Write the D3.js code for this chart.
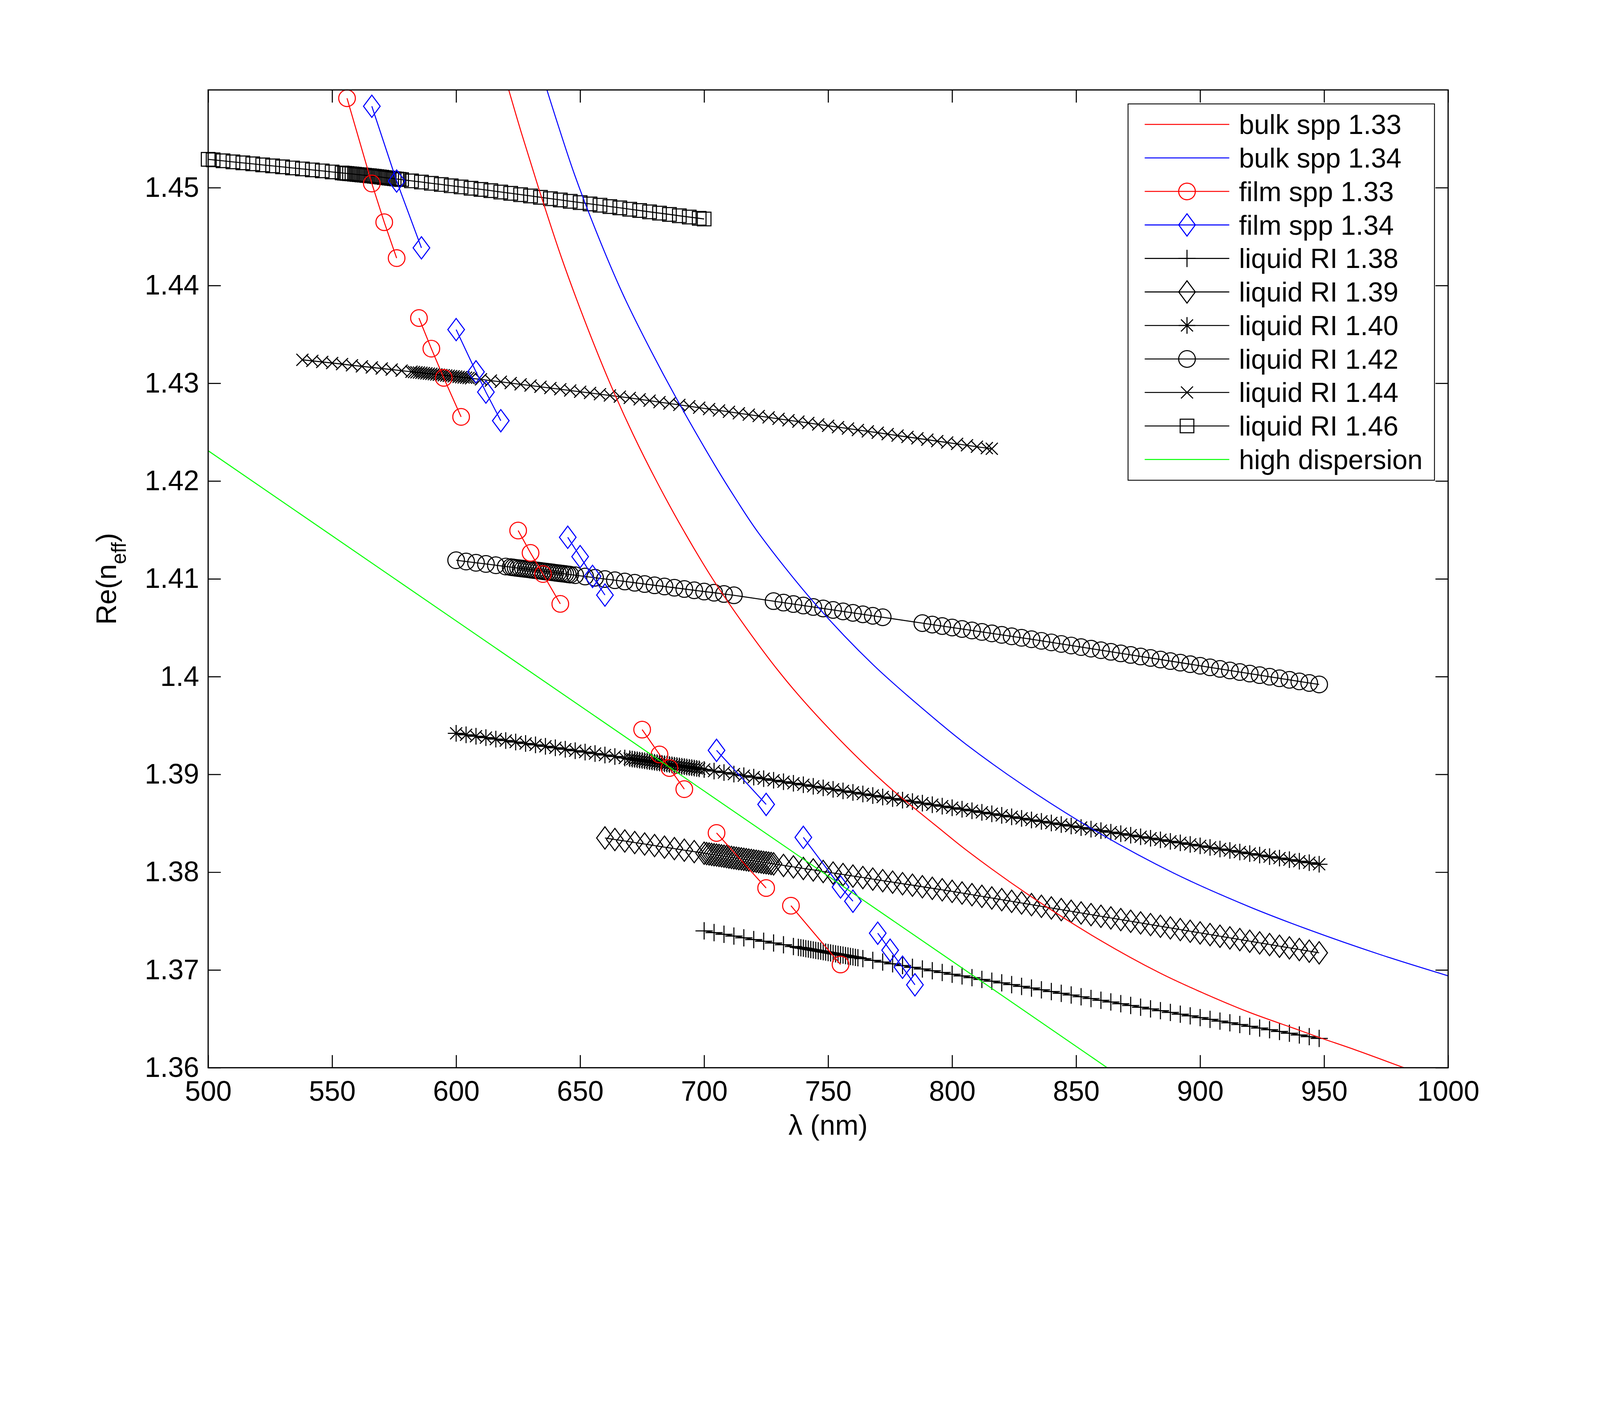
<!DOCTYPE html>
<html>
<head>
<meta charset="utf-8">
<script src="https://cdn.jsdelivr.net/npm/d3@7"></script>
<style>
html, body { margin: 0; padding: 0; background: #fff; overflow: hidden; }
#chart { display: block; width: 100vw; height: 74.979vw; }
svg text { font-family: "Liberation Sans", Arial, Helvetica, sans-serif; fill: #000; }
</style>
</head>
<body>
<svg id="chart"></svg>
<script>

// ---- axis ticks ----
var xTicks = [500, 550, 600, 650, 700, 750, 800, 850, 900, 950, 1000];
var yTicks = [1.36, 1.37, 1.38, 1.39, 1.40, 1.41, 1.42, 1.43, 1.44, 1.45];
var yTickLabels = ["1.36", "1.37", "1.38", "1.39", "1.4", "1.41", "1.42", "1.43", "1.44", "1.45"];

var seriesNames = ["bulk spp 1.33", "bulk spp 1.34", "film spp 1.33", "film spp 1.34",
  "liquid RI 1.38", "liquid RI 1.39", "liquid RI 1.40", "liquid RI 1.42",
  "liquid RI 1.44", "liquid RI 1.46", "high dispersion"];

// ---- bulk spp curves ----
var bulk133X = [621.2, 626.2, 633.2, 642.4, 651.7, 661.7, 671.3, 681.2, 691.8, 705.2, 729.9, 747.7,
  772.4, 795.7, 805.5, 831.3, 859.3, 883.7, 899.8, 919.5, 939.3, 948, 962.9, 982.2];
var bulk133Y = [1.4600, 1.4557, 1.4500, 1.4429, 1.4365, 1.4302, 1.4248, 1.4198, 1.4149, 1.4093, 1.4006, 1.3954,
  1.3892, 1.3843, 1.3823, 1.3776, 1.3731, 1.3697, 1.3678, 1.3657, 1.3639, 1.3631, 1.3618, 1.3600];

var bulk134X = [636.6, 640.1, 647.8, 658.6, 667.8, 678.6, 689.6, 704.6, 712.7, 721.9, 744.9, 768.2,
  795.7, 805.5, 828.6, 859.3, 889.4, 919.5, 944.0, 972.3, 1000];
var bulk134Y = [1.4600, 1.4572, 1.4513, 1.4442, 1.4388, 1.4333, 1.4281, 1.4215, 1.4182, 1.4147, 1.4074, 1.4012,
  1.3951, 1.3931, 1.3889, 1.3840, 1.3799, 1.3765, 1.3741, 1.3716, 1.3694];

// ---- film spp (segments split by null) ----
var film133X = [556, 566, 571, 576, null, 585, 590, 595, 602, null, 625, 630, 635, 642, null,
  675, 682, 686, 692, null, 705, 725, null, 735, 755];
var film133Y = [1.45915, 1.45043, 1.44647, 1.44280, null, 1.43667, 1.43354, 1.43055, 1.42656, null,
  1.41494, 1.41265, 1.41049, 1.40744, null, 1.39458, 1.39204, 1.39065, 1.38849, null,
  1.38401, 1.37838, null, 1.37657, 1.37056];

var film134X = [566, 576, 586, null, 600, 608, 612, 618, null, 645, 650, 655, 660, null,
  705, 725, null, 740, 755, 760, null, 770, 775, 780, 785];
var film134Y = [1.45833, 1.45068, 1.44385, null, 1.43549, 1.43117, 1.42910, 1.42617, null,
  1.41425, 1.41227, 1.41025, 1.40834, null, 1.39246, 1.38693, null, 1.38356, 1.37849, 1.37703, null,
  1.37376, 1.37202, 1.37028, 1.36848];

// ---- liquid RI 1.38 ----
var ri138X = [700, 704, 708, 712, 716, 720, 724, 728, 732, 736,
  738, 739, 740, 741, 742, 743, 744, 745, 746, 747, 748, 749, 750, 751, 752, 753, 754, 755, 756, 757, 758, 759, 760, 761, 762,
  764, 768, 772, 776, 780, 784, 788, 792, 796, 800, 804, 808, 812, 816, 820, 824, 828, 832, 836, 840, 844, 848,
  852, 856, 860, 864, 868, 872, 876, 880, 884, 888, 892, 896, 900, 904, 908, 912, 916, 920, 924, 928, 932, 936,
  940, 944, 948];
var ri138Y = [1.37400, 1.37382, 1.37365, 1.37347, 1.37329, 1.37311, 1.37294, 1.37276, 1.37258, 1.37240,
  1.37231, 1.37227, 1.37223, 1.37218, 1.37214, 1.37209, 1.37205, 1.37200, 1.37196, 1.37192, 1.37187, 1.37183,
  1.37178, 1.37174, 1.37169, 1.37165, 1.37160, 1.37156, 1.37152, 1.37147, 1.37143, 1.37138, 1.37134, 1.37129, 1.37125,
  1.37116, 1.37098, 1.37081, 1.37063, 1.37045, 1.37027, 1.37010, 1.36992, 1.36974, 1.36956,
  1.36939, 1.36921, 1.36903, 1.36885, 1.36868, 1.36850, 1.36832, 1.36815, 1.36797, 1.36779,
  1.36761, 1.36744, 1.36726, 1.36708, 1.36690, 1.36673, 1.36655, 1.36637, 1.36619, 1.36602,
  1.36584, 1.36566, 1.36548, 1.36531, 1.36513, 1.36495, 1.36477, 1.36460, 1.36442, 1.36424,
  1.36406, 1.36389, 1.36371, 1.36353, 1.36335, 1.36318, 1.36300];

// ---- liquid RI 1.39 ----
var ri139X = [660, 664, 668, 672, 676, 680, 684, 688, 692, 696, 700,
  701, 702, 703, 704, 705, 706, 707, 708, 709, 710, 711, 712, 713, 714, 715, 716, 717, 718, 719, 720, 721, 722,
  723, 724, 725, 726, 727,
  728, 732, 736, 740, 744, 748, 752, 756, 760, 764, 768, 772, 776, 780, 784, 788, 792, 796, 800,
  804, 808, 812, 816, 820, 824, 828, 832, 836, 840, 844, 848, 852, 856, 860, 864, 868, 872, 876, 880,
  884, 888, 892, 896, 900, 904, 908, 912, 916, 920, 924, 928, 932, 936, 940, 944, 948];
var ri139Y = [1.38350, 1.38334, 1.38319, 1.38303, 1.38288, 1.38272, 1.38256, 1.38241, 1.38225, 1.38210, 1.38194,
  1.38190, 1.38186, 1.38182, 1.38178, 1.38175, 1.38171, 1.38167, 1.38163, 1.38159, 1.38155, 1.38151, 1.38147,
  1.38143, 1.38139, 1.38136, 1.38132, 1.38128, 1.38124, 1.38120, 1.38116, 1.38112, 1.38108, 1.38104, 1.38100,
  1.38097, 1.38093, 1.38089,
  1.38085, 1.38069, 1.38054, 1.38038, 1.38023, 1.38007, 1.37991, 1.37976, 1.37960, 1.37945, 1.37929, 1.37913,
  1.37898, 1.37882, 1.37867, 1.37851, 1.37835, 1.37820, 1.37804,
  1.37787, 1.37770, 1.37753, 1.37736, 1.37719, 1.37702, 1.37685, 1.37668, 1.37651, 1.37634, 1.37617, 1.37600,
  1.37583, 1.37566, 1.37549, 1.37532, 1.37515, 1.37498, 1.37481, 1.37464, 1.37447, 1.37430, 1.37413, 1.37396,
  1.37379, 1.37362, 1.37345, 1.37328, 1.37311, 1.37294, 1.37277, 1.37260, 1.37243, 1.37226, 1.37209, 1.37192, 1.37175];

// ---- liquid RI 1.40 ----
var ri140X = [600, 604, 608, 612, 616, 620, 624, 628, 632, 636, 640, 644, 648, 652, 656, 660, 664, 668,
  670, 671, 672, 673, 674, 675, 676, 677, 678, 679, 680, 681, 682, 683, 684, 685, 686, 687, 688, 689, 690,
  691, 692, 693, 694, 695, 696, 697, 698,
  700, 704, 708, 712, 716, 720, 724, 728, 732, 736, 740, 744, 748, 752, 756, 760, 764, 768, 772, 776, 780,
  784, 788, 792, 796, 800, 804, 808, 812, 816, 820, 824, 828, 832, 836, 840, 844, 848, 852, 856, 860, 864,
  868, 872, 876, 880, 884, 888, 892, 896, 900, 904, 908, 912, 916, 920, 924, 928, 932, 936, 940, 944, 948];
var ri140Y = [1.39420, 1.39405, 1.39390, 1.39376, 1.39361, 1.39346, 1.39331, 1.39316, 1.39302, 1.39287,
  1.39272, 1.39257, 1.39242, 1.39228, 1.39213, 1.39198, 1.39183, 1.39168,
  1.39161, 1.39157, 1.39154, 1.39150, 1.39146, 1.39143, 1.39139, 1.39135, 1.39131, 1.39128, 1.39124, 1.39120,
  1.39117, 1.39113, 1.39109, 1.39106, 1.39102, 1.39098, 1.39094, 1.39091, 1.39087, 1.39083, 1.39080, 1.39076,
  1.39072, 1.39069, 1.39065, 1.39061, 1.39057,
  1.39050, 1.39034, 1.39019, 1.39003, 1.38987, 1.38972, 1.38956, 1.38940, 1.38925, 1.38909, 1.38894, 1.38878,
  1.38862, 1.38847, 1.38831, 1.38816, 1.38800, 1.38784, 1.38769, 1.38753, 1.38737, 1.38722, 1.38706, 1.38690,
  1.38675, 1.38659, 1.38644, 1.38628, 1.38612, 1.38597, 1.38581, 1.38566, 1.38550, 1.38534, 1.38519, 1.38503,
  1.38487, 1.38472, 1.38456, 1.38440, 1.38425, 1.38409, 1.38394, 1.38378, 1.38362, 1.38347, 1.38331, 1.38315,
  1.38300, 1.38284, 1.38269, 1.38253, 1.38237, 1.38222, 1.38206, 1.38190, 1.38175, 1.38159, 1.38144, 1.38128,
  1.38112, 1.38097, 1.38081];

// ---- liquid RI 1.42 ----
var ri142X = [600, 604, 608, 612, 616, 620,
  622, 623, 624, 625, 626, 627, 628, 629, 630, 631, 632, 633, 634, 635, 636, 637, 638, 639, 640, 641, 642,
  643, 644, 645, 646,
  648, 652, 656, 660, 664, 668, 672, 676, 680, 684, 688, 692, 696, 700, 704, 708, 712,
  728, 732, 736, 740, 744, 748, 752, 756, 760, 764, 768, 772,
  788, 792, 796, 800, 804, 808, 812, 816, 820, 824, 828, 832, 836, 840, 844, 848, 852, 856, 860, 864, 868,
  872, 876, 880, 884, 888, 892, 896, 900, 904, 908, 912, 916, 920, 924, 928, 932, 936, 940, 944, 948];
var ri142Y = [1.41190, 1.41177, 1.41164, 1.41152, 1.41139, 1.41126,
  1.41120, 1.41117, 1.41113, 1.41110, 1.41107, 1.41104, 1.41101, 1.41098, 1.41094, 1.41091, 1.41088, 1.41085,
  1.41082, 1.41078, 1.41075, 1.41072, 1.41069, 1.41066, 1.41062, 1.41059, 1.41056, 1.41053, 1.41050, 1.41046, 1.41043,
  1.41037, 1.41024, 1.41011, 1.40998, 1.40986, 1.40973, 1.40960, 1.40947, 1.40934, 1.40922, 1.40909, 1.40896,
  1.40883, 1.40870, 1.40858, 1.40845, 1.40832,
  1.40772, 1.40757, 1.40742, 1.40727, 1.40712, 1.40697, 1.40682, 1.40667, 1.40652, 1.40637, 1.40622, 1.40607,
  1.40547, 1.40532, 1.40517, 1.40502, 1.40487, 1.40472, 1.40457, 1.40442, 1.40427, 1.40412, 1.40397,
  1.40382, 1.40366, 1.40350, 1.40334, 1.40318, 1.40302, 1.40286, 1.40270, 1.40254, 1.40238, 1.40222, 1.40206,
  1.40191, 1.40175, 1.40159, 1.40143, 1.40127, 1.40111, 1.40095, 1.40079, 1.40063, 1.40047, 1.40031, 1.40015,
  1.39999, 1.39983, 1.39967, 1.39951, 1.39935, 1.39920];

// ---- liquid RI 1.44 ----
var ri144X = [538, 542, 546, 550, 554, 558, 562, 566, 570, 574, 578,
  582, 583, 584, 585, 586, 587, 588, 589, 590, 591, 592, 593, 594, 595, 596, 597, 598, 599, 600, 601, 602,
  603, 604, 605, 606,
  610, 614, 618, 622, 626, 630, 634, 638, 642, 646, 650, 654, 658, 662, 666, 670, 674, 678, 682, 686, 690,
  694, 698, 702, 706, 710, 714, 718, 722, 726, 730, 734, 738, 742, 746, 750, 754, 758, 762, 766, 770, 774,
  778, 782, 786, 790, 794, 798, 802, 806, 810, 814, 816];
var ri144Y = [1.43240, 1.43229, 1.43218, 1.43207, 1.43196, 1.43184, 1.43173, 1.43162, 1.43151, 1.43140, 1.43129,
  1.43118, 1.43115, 1.43112, 1.43110, 1.43107, 1.43104, 1.43101, 1.43098, 1.43096, 1.43093, 1.43090, 1.43087,
  1.43084, 1.43082, 1.43079, 1.43076, 1.43073, 1.43071, 1.43068, 1.43065, 1.43062, 1.43059, 1.43057, 1.43054, 1.43051,
  1.43040, 1.43027, 1.43015, 1.43002, 1.42989, 1.42977, 1.42964, 1.42951, 1.42939, 1.42926, 1.42913, 1.42901,
  1.42888, 1.42875, 1.42863, 1.42850,
  1.42836, 1.42822, 1.42807, 1.42793, 1.42779, 1.42765, 1.42750, 1.42736, 1.42722, 1.42708, 1.42693, 1.42679,
  1.42665, 1.42651, 1.42636, 1.42622, 1.42608, 1.42594, 1.42579, 1.42565, 1.42551, 1.42537, 1.42522, 1.42508,
  1.42494, 1.42480, 1.42465, 1.42451, 1.42437, 1.42423, 1.42408, 1.42394, 1.42380, 1.42366, 1.42351, 1.42337, 1.42330];

// ---- liquid RI 1.46 ----
var ri146X = [500, 502, 506, 510, 514, 518, 522, 526, 530, 534, 538, 542, 546, 550, 554,
  555, 556, 557, 558, 559, 560, 561, 562, 563, 564, 565, 566, 567, 568, 569, 570, 571, 572, 573, 574, 575,
  576, 577, 578,
  582, 586, 590, 594, 598, 602, 606, 610, 614, 618, 622, 626, 630, 634, 638, 642, 646, 650, 654, 658, 662,
  666, 670, 674, 678, 682, 686, 690, 694, 698, 700];
var ri146Y = [1.45290, 1.45285, 1.45275, 1.45264, 1.45254, 1.45244, 1.45233, 1.45223, 1.45213, 1.45202,
  1.45192, 1.45182, 1.45172, 1.45161, 1.45151,
  1.45148, 1.45146, 1.45143, 1.45141, 1.45138, 1.45135, 1.45133, 1.45130, 1.45128, 1.45125, 1.45123, 1.45120,
  1.45117, 1.45114, 1.45111, 1.45108, 1.45104, 1.45101, 1.45098, 1.45095, 1.45092, 1.45089, 1.45086, 1.45083,
  1.45070, 1.45058, 1.45045, 1.45033, 1.45020, 1.45008, 1.44995, 1.44983, 1.44970,
  1.44956, 1.44943, 1.44929, 1.44916, 1.44902, 1.44888, 1.44875, 1.44861, 1.44848, 1.44834, 1.44821, 1.44807,
  1.44794, 1.44780, 1.44767, 1.44753, 1.44740, 1.44727, 1.44713, 1.44700, 1.44687, 1.44680];

// ---- high dispersion (straight line) ----
var highDispX = [500, 600, 700, 800, 870];
var highDispY = [1.4231, 1.4057, 1.3883, 1.3709, 1.3587];


// ---------------- drawing ----------------
var width = 4804, height = 3602;
var plotLeft = 625, plotRight = 4348, plotTop = 270, plotBottom = 3206;

var x = d3.scaleLinear().domain([500, 1000]).range([plotLeft, plotRight]);
var y = d3.scaleLinear().domain([1.36, 1.46]).range([plotBottom, plotTop]);

var svg = d3.select("#chart")
  .attr("viewBox", "0 0 " + width + " " + height)
  .attr("preserveAspectRatio", "xMinYMin meet");

svg.append("rect").attr("width", width).attr("height", height).attr("fill", "#fff");

svg.append("defs").append("clipPath").attr("id", "plotClip")
  .append("rect")
    .attr("x", plotLeft).attr("y", plotTop)
    .attr("width", plotRight - plotLeft).attr("height", plotBottom - plotTop);

var markerPath = {
  "o": "M25,0A25,25 0 1,1 -25,0A25,25 0 1,1 25,0Z",
  "d": "M0,-33.5L25,0L0,33.5L-25,0Z",
  "s": "M-20.5,-20.5H20.5V20.5H-20.5Z",
  "+": "M0,-26V26M-26,0H26",
  "x": "M-18,-18L18,18M-18,18L18,-18",
  "*": "M0,-25V25M-25,0H25M-18,-18L18,18M-18,18L18,-18"
};

var series = [
  {name: seriesNames[0], xs: bulk133X, ys: bulk133Y, color: "#ff0000", marker: null, smooth: true},
  {name: seriesNames[1], xs: bulk134X, ys: bulk134Y, color: "#0000ff", marker: null, smooth: true},
  {name: seriesNames[2], xs: film133X, ys: film133Y, color: "#ff0000", marker: "o"},
  {name: seriesNames[3], xs: film134X, ys: film134Y, color: "#0000ff", marker: "d"},
  {name: seriesNames[4], xs: ri138X, ys: ri138Y, color: "#000000", marker: "+"},
  {name: seriesNames[5], xs: ri139X, ys: ri139Y, color: "#000000", marker: "d"},
  {name: seriesNames[6], xs: ri140X, ys: ri140Y, color: "#000000", marker: "*"},
  {name: seriesNames[7], xs: ri142X, ys: ri142Y, color: "#000000", marker: "o"},
  {name: seriesNames[8], xs: ri144X, ys: ri144Y, color: "#000000", marker: "x"},
  {name: seriesNames[9], xs: ri146X, ys: ri146Y, color: "#000000", marker: "s"},
  {name: seriesNames[10], xs: highDispX, ys: highDispY, color: "#00ff00", marker: null}
];

series.forEach(function(s) {
  var n = Math.min(s.xs.length, s.ys.length);
  s.points = [];
  for (var i = 0; i < n; i++) s.points.push({x: s.xs[i], y: s.ys[i]});
});

function defined(d) { return d.x != null && d.y != null; }

var line = d3.line().defined(defined)
  .x(function(d) { return x(d.x); })
  .y(function(d) { return y(d.y); });
var smoothLine = d3.line().defined(defined)
  .curve(d3.curveCatmullRom.alpha(0.5))
  .x(function(d) { return x(d.x); })
  .y(function(d) { return y(d.y); });

var lw = 3.0, mw = 3.2;
var plot = svg.append("g");

// liquids first, then film, then bulk, then high dispersion on top
var drawOrder = [4, 5, 6, 7, 8, 9, 2, 3, 0, 1, 10];
drawOrder.forEach(function(k) {
  var s = series[k];
  var g = plot.append("g");
  g.append("path")
    .datum(s.points)
    .attr("clip-path", s.marker ? null : "url(#plotClip)")
    .attr("d", s.smooth ? smoothLine : line)
    .attr("fill", "none")
    .attr("stroke", s.color)
    .attr("stroke-width", lw)
    .attr("stroke-linejoin", "round");
  if (s.marker) {
    g.selectAll(".mk")
      .data(s.points.filter(defined))
      .enter().append("path")
        .attr("class", "mk")
        .attr("transform", function(d) { return "translate(" + x(d.x) + "," + y(d.y) + ")"; })
        .attr("d", markerPath[s.marker])
        .attr("fill", "none")
        .attr("stroke", s.color)
        .attr("stroke-width", mw);
  }
});

// ---- axes (box with inward ticks on all four sides) ----
var tickLen = 38, fontSize = 84;

var gx = svg.append("g")
  .attr("transform", "translate(0," + plotBottom + ")")
  .call(d3.axisBottom(x).tickValues(xTicks).tickSizeInner(-tickLen).tickSizeOuter(0).tickPadding(40)
    .tickFormat(d3.format("d")));
var gxt = svg.append("g")
  .attr("transform", "translate(0," + plotTop + ")")
  .call(d3.axisTop(x).tickValues(xTicks).tickSizeInner(-tickLen).tickSizeOuter(0).tickFormat(""));
var gy = svg.append("g")
  .attr("transform", "translate(" + plotLeft + ",0)")
  .call(d3.axisLeft(y).tickValues(yTicks).tickSizeInner(-tickLen).tickSizeOuter(0).tickPadding(27)
    .tickFormat(function(d, i) { return yTickLabels[i]; }));
var gyr = svg.append("g")
  .attr("transform", "translate(" + plotRight + ",0)")
  .call(d3.axisRight(y).tickValues(yTicks).tickSizeInner(-tickLen).tickSizeOuter(0).tickFormat(""));

[gx, gxt, gy, gyr].forEach(function(g) {
  g.select(".domain").remove();
  g.selectAll(".tick line").attr("stroke", "#000").attr("stroke-width", 3.2);
  g.selectAll(".tick text")
    .attr("fill", "#000")
    .attr("font-size", fontSize)
    .attr("font-family", "Liberation Sans, Arial, Helvetica, sans-serif");
});

svg.append("rect")
  .attr("x", plotLeft).attr("y", plotTop)
  .attr("width", plotRight - plotLeft).attr("height", plotBottom - plotTop)
  .attr("fill", "none")
  .attr("stroke", "#000")
  .attr("stroke-width", 3.6);

// ---- axis labels ----
svg.append("text")
  .attr("x", (plotLeft + plotRight) / 2)
  .attr("y", 3407)
  .attr("text-anchor", "middle")
  .attr("font-size", fontSize)
  .text("\u03bb (nm)");

var ylab = svg.append("text")
  .attr("transform", "translate(348," + ((plotTop + plotBottom) / 2) + ") rotate(-90)")
  .attr("text-anchor", "middle")
  .attr("font-size", fontSize);
ylab.append("tspan").text("Re(n");
ylab.append("tspan").attr("font-size", 60).attr("dy", 30).text("eff");
ylab.append("tspan").attr("font-size", fontSize).attr("dy", -30).text(")");

// ---- legend ----
var legX = 3387, legY = 312, legW = 920, legH = 1130;
var rowY0 = 373.6, rowStep = 100.6;
var legend = svg.append("g");
legend.append("rect")
  .attr("x", legX).attr("y", legY)
  .attr("width", legW).attr("height", legH)
  .attr("fill", "#fff")
  .attr("stroke", "#000")
  .attr("stroke-width", 2.6);

var rows = legend.selectAll(".row")
  .data(series)
  .enter().append("g")
    .attr("class", "row")
    .attr("transform", function(d, i) { return "translate(0," + (rowY0 + i * rowStep) + ")"; });

rows.append("line")
  .attr("x1", 3437).attr("x2", 3691)
  .attr("y1", 0).attr("y2", 0)
  .attr("stroke", function(d) { return d.color; })
  .attr("stroke-width", lw);

rows.filter(function(d) { return d.marker; })
  .append("path")
    .attr("transform", "translate(3564,0)")
    .attr("d", function(d) { return markerPath[d.marker]; })
    .attr("fill", "none")
    .attr("stroke", function(d) { return d.color; })
    .attr("stroke-width", mw);

rows.append("text")
  .attr("x", 3720)
  .attr("y", 29)
  .attr("font-size", 82)
  .text(function(d) { return d.name; });

</script>
</body>
</html>
